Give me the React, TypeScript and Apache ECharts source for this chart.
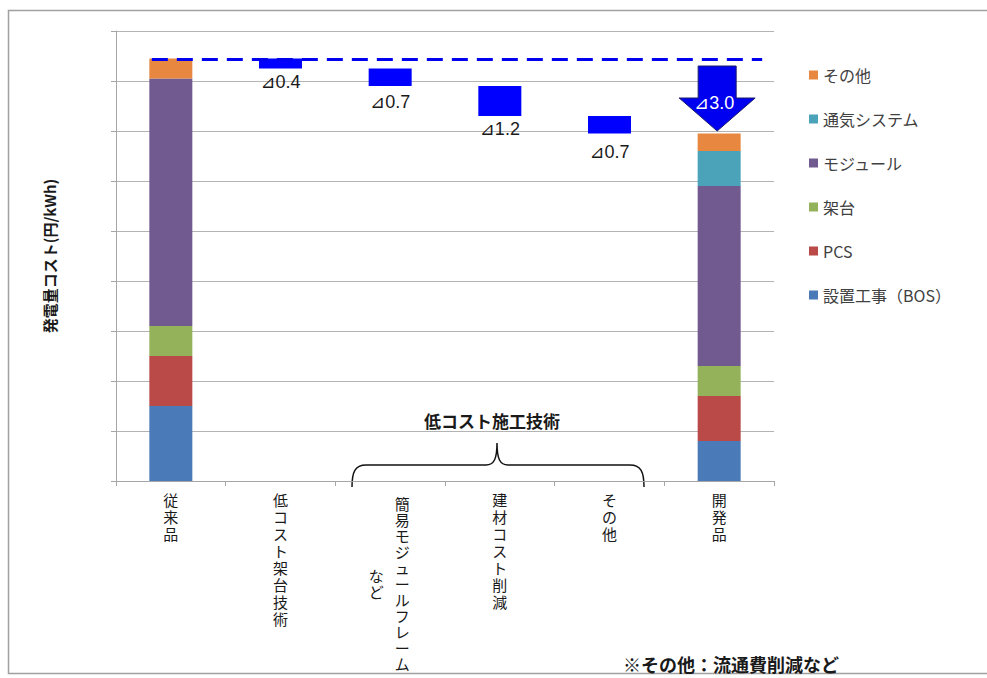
import React, { useEffect, useRef } from "react";
import * as echarts from "echarts";

// ---------- data ----------
const categories = ["従来品", "低コスト架台技術", "簡易モジュールフレーム\nなど", "建材コスト削減", "その他", "開発品"];
const seriesNames = ["設置工事（BOS）", "PCS", "架台", "モジュール", "通気システム", "その他"];
const bosValues = [3.0, 0, 0, 0, 0, 1.6];
const pcsValues = [2.0, 0, 0, 0, 0, 1.8];
const frameValues = [1.2, 0, 0, 0, 0, 1.2];
const moduleValues = [9.9, 0, 0, 0, 0, 7.2];
const ventValues = [0, 0, 0, 0, 0, 1.4];
const otherValues = [0.8, 0, 0, 0, 0, 0.7];
const reductionValues = [0, 0.4, 0.7, 1.2, 0.7, 0];
const totalReduction = [3.0];
const yTicks = { min: 0, max: 18, interval: 2 };

// ---------- styles ----------
const colors = ["#4a7ab7", "#b94a47", "#93b25a", "#715a8f", "#4aa3b8", "#e8873f"];
const CJK = '"Noto Sans CJK JP", "Noto Sans", sans-serif';
const LAT = '"Liberation Sans", "DejaVu Sans", "Noto Sans CJK JP", sans-serif';
const labelGaps = [0, 4, 7, 4, 9, 0];
const TWO_COLUMN_CAT = 2;

const bracePath =
  "M352,487 C352,472 355,465 366,465 L486,465 C494,465 497,459 497,443 C497,459 500,465 508,465 L630,465 C641,465 644,472 644,487";

const startTotal =
  bosValues[0] + pcsValues[0] + frameValues[0] + moduleValues[0] + ventValues[0] + otherValues[0];
const baseValues = reductionValues.map((v, i) => {
  if (v === 0) return 0;
  let s = startTotal;
  for (let k = 0; k <= i; k++) s -= reductionValues[k];
  return +s.toFixed(2);
});
const endTotal =
  bosValues[5] + pcsValues[5] + frameValues[5] + moduleValues[5] + ventValues[5] + otherValues[5];

const componentSeries = [bosValues, pcsValues, frameValues, moduleValues, ventValues, otherValues].map(
  (arr, i) => ({
    name: seriesNames[i],
    type: "bar",
    stack: "total",
    barWidth: 43,
    itemStyle: { color: colors[i] },
    data: arr,
  })
);

const vertical = (s: string) => Array.from(s).join("\n");

export default function App() {
  const ref = useRef<HTMLDivElement>(null);
  useEffect(() => {
    try {
      echarts.graphic.registerShape("brace", echarts.graphic.extendPath(bracePath, {}) as any);
    } catch (e) {}
    const chart = echarts.init(ref.current as HTMLDivElement, null, { renderer: "svg" });
    const option: any = {
      animation: false,
      backgroundColor: "#ffffff",
      grid: { left: 116, right: 213, top: 31, bottom: 197, containLabel: false },
      legend: {
        orient: "vertical",
        left: 804,
        top: 61,
        itemWidth: 9,
        itemHeight: 9,
        itemGap: 26,
        icon: "rect",
        data: [...seriesNames].reverse(),
        textStyle: { fontFamily: CJK, fontSize: 16, color: "#404040", lineHeight: 18 },
      },
      xAxis: {
        type: "category",
        data: categories,
        axisLine: { lineStyle: { color: "#a6a6a6", width: 1 } },
        axisTick: { show: true, length: 5, lineStyle: { color: "#a6a6a6" } },
        axisLabel: {
          interval: 0,
          margin: 10,
          fontFamily: CJK,
          fontSize: 15,
          lineHeight: 17,
          color: "#1a1a1a",
          verticalAlign: "top",
          formatter: (value: string, idx: number) =>
            idx === TWO_COLUMN_CAT ? "" : vertical(value.split("\n")[0]),
        },
      },
      yAxis: {
        type: "value",
        min: yTicks.min,
        max: yTicks.max,
        interval: yTicks.interval,
        name: "発電量コスト(円/kWh)",
        nameLocation: "middle",
        nameRotate: 90,
        nameGap: 59,
        nameTextStyle: { fontFamily: CJK, fontSize: 15, fontWeight: "bold", color: "#1a1a1a" },
        axisLine: { show: true, lineStyle: { color: "#a6a6a6", width: 1 } },
        axisTick: { show: true, length: 5, lineStyle: { color: "#a6a6a6" } },
        axisLabel: { show: false },
        splitLine: { lineStyle: { color: "#b3b3b3", width: 1 } },
      },
      series: [
        ...componentSeries,
        {
          name: "base",
          type: "bar",
          stack: "total",
          barWidth: 43,
          itemStyle: { color: "rgba(0,0,0,0)" },
          data: baseValues,
          silent: true,
        },
        {
          name: "削減",
          type: "bar",
          stack: "total",
          barWidth: 43,
          itemStyle: { color: "#0000ff" },
          data: reductionValues.map((v, i) =>
            v === 0
              ? { value: 0, label: { show: false } }
              : { value: v, label: { show: true, distance: labelGaps[i] } }
          ),
          label: {
            show: true,
            position: "bottom",
            formatter: (p: any) => "⊿" + Number(p.value).toFixed(1),
            fontFamily: LAT,
            fontSize: 18,
            color: "#1a1a1a",
          },
        },
        {
          name: "dash",
          type: "custom",
          z: 10,
          silent: true,
          data: [[0, 5, startTotal]],
          renderItem: (params: any, api: any) => {
            const p0 = api.coord([api.value(0), api.value(2)]);
            const p1 = api.coord([api.value(1), api.value(2)]);
            return {
              type: "line",
              shape: { x1: p0[0] - 19, y1: p0[1] + 1, x2: p1[0] + 43, y2: p1[1] + 1 },
              style: { stroke: "#0000ee", lineWidth: 3.2, lineDash: [16, 9] },
            };
          },
        },
        {
          name: "arrow",
          type: "custom",
          z: 11,
          silent: true,
          data: [[5, startTotal - 0.3, endTotal + 0.1, totalReduction[0]]],
          renderItem: (params: any, api: any) => {
            const top = api.coord([api.value(0), api.value(1)]);
            const tip = api.coord([api.value(0), api.value(2)]);
            const x = tip[0] - 2;
            const sw = 19,
              hw = 38,
              hl = 33;
            const hy = tip[1] - hl;
            return {
              type: "group",
              children: [
                {
                  type: "polygon",
                  shape: {
                    points: [
                      [x - sw, top[1]],
                      [x + sw, top[1]],
                      [x + sw, hy],
                      [x + hw, hy],
                      [x, tip[1]],
                      [x - hw, hy],
                      [x - sw, hy],
                    ],
                  },
                  style: { fill: "#0000f0", stroke: "#1c1c6e", lineWidth: 1 },
                },
                {
                  type: "text",
                  x: x - 3,
                  y: hy + 5,
                  style: {
                    text: "⊿" + Number(api.value(3)).toFixed(1),
                    fill: "#ffffff",
                    fontSize: 18,
                    fontFamily: LAT,
                    align: "center",
                    verticalAlign: "middle",
                  },
                },
              ],
            };
          },
        },
        {
          name: "twoColumnLabel",
          type: "custom",
          silent: true,
          clip: false,
          data: [[TWO_COLUMN_CAT, 0]],
          renderItem: (params: any, api: any) => {
            const p = api.coord([api.value(0), api.value(1)]);
            const [main, sub] = categories[TWO_COLUMN_CAT].split("\n");
            const lh = 16;
            const mainTop = p[1] + 14;
            const mainLen = Array.from(main).length;
            return {
              type: "group",
              children: [
                {
                  type: "text",
                  x: p[0] + 12,
                  y: mainTop,
                  style: {
                    text: vertical(main),
                    fill: "#1a1a1a",
                    fontSize: 15,
                    lineHeight: lh,
                    fontFamily: CJK,
                    align: "center",
                    verticalAlign: "top",
                  },
                },
                {
                  type: "text",
                  x: p[0] - 14,
                  y: mainTop + (mainLen * lh) / 2,
                  style: {
                    text: vertical(sub),
                    fill: "#1a1a1a",
                    fontSize: 15,
                    lineHeight: lh,
                    fontFamily: CJK,
                    align: "center",
                    verticalAlign: "middle",
                  },
                },
              ],
            };
          },
        },
      ],
      graphic: [
        {
          type: "rect",
          z: -10,
          silent: true,
          shape: { x: 8.5, y: 10.5, width: 995, height: 663 },
          style: { fill: "none", stroke: "#a0a0a0", lineWidth: 1.5 },
        },
        {
          type: "brace",
          x: 0,
          y: 0,
          silent: true,
          style: { fill: "none", stroke: "#111111", lineWidth: 1.5 },
        },
        {
          type: "text",
          x: 492,
          y: 420,
          silent: true,
          style: {
            text: "低コスト施工技術",
            fill: "#1a1a1a",
            fontSize: 17,
            fontWeight: "bold",
            fontFamily: CJK,
            align: "center",
            verticalAlign: "middle",
          },
        },
        {
          type: "text",
          x: 623,
          y: 664,
          silent: true,
          style: {
            text: "※その他：流通費削減など",
            fill: "#1a1a1a",
            fontSize: 18,
            fontWeight: "bold",
            fontFamily: CJK,
            align: "left",
            verticalAlign: "middle",
          },
        },
      ],
    };
    chart.setOption(option);
    return () => chart.dispose();
  }, []);
  return (
    <div
      ref={ref}
      style={{ position: "fixed", left: 0, top: 0, width: 987, height: 678, background: "#ffffff" }}
    />
  );
}
